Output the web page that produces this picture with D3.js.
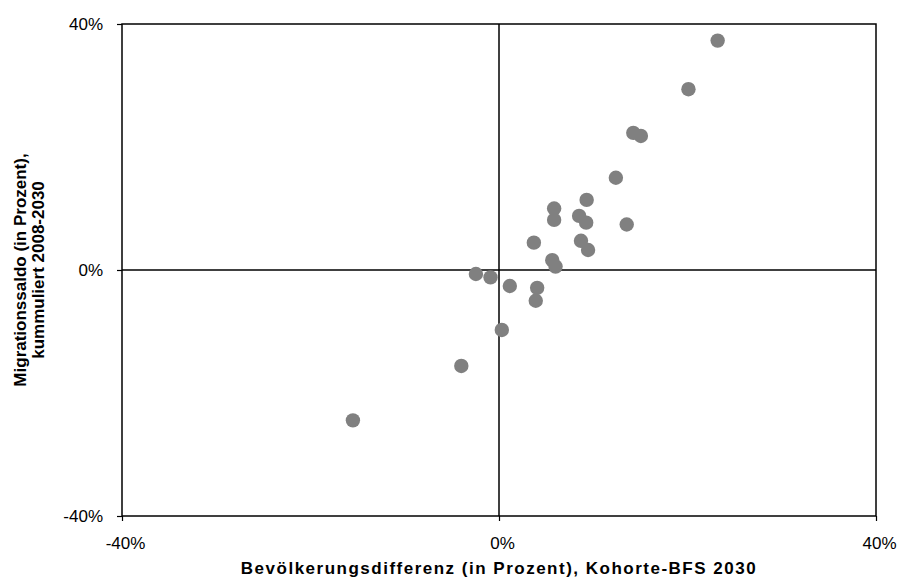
<!DOCTYPE html>
<html>
<head>
<meta charset="utf-8">
<script src="https://cdn.jsdelivr.net/npm/d3@7"></script>
<style>
  body { margin: 0; background: #fff; }
  svg text { font-family: "Liberation Sans", Arial, sans-serif; fill: #000; }
</style>
</head>
<body>
<svg id="chart" width="914" height="581"></svg>
<script>
// Bevoelkerungsdifferenz (x, %) vs. Migrationssaldo (y, %)
const xVals = [23.2, 20.1, 14.25, 15.05, 12.4, 9.3, 5.85, 5.85, 8.5, 9.25, 13.55, 3.7, 8.7, 9.45, 5.65, 6.0, -2.45, -0.9, 1.15, 4.05, 3.9, 0.3, -4.0, -15.5];
const yVals = [37.3, 29.4, 22.3, 21.8, 15.0, 11.4, 10.0, 8.15, 8.8, 7.7, 7.4, 4.45, 4.75, 3.25, 1.6, 0.55, -0.65, -1.2, -2.6, -2.9, -5.0, -9.75, -15.6, -24.45];
const tickVals = [-40, 0, 40];

const svg = d3.select('#chart');
const margin = { left: 122, top: 24, right: 38, bottom: 65 };
const width = 914 - margin.left - margin.right;
const height = 581 - margin.top - margin.bottom;

const x = d3.scaleLinear().domain([-40, 40]).range([0, width]);
const y = d3.scaleLinear().domain([-40, 40]).range([height, 0]);

const g = svg.append('g').attr('transform', `translate(${margin.left},${margin.top})`);

// frame
g.append('rect')
    .attr('width', width)
    .attr('height', height)
    .attr('fill', 'none')
    .attr('stroke', '#000')
    .attr('stroke-width', 1.5);

// zero lines
g.append('line')
    .attr('x1', 0).attr('x2', width)
    .attr('y1', y(0)).attr('y2', y(0))
    .attr('stroke', '#000').attr('stroke-width', 1.5);
g.append('line')
    .attr('x1', x(0)).attr('x2', x(0))
    .attr('y1', 0).attr('y2', height)
    .attr('stroke', '#000').attr('stroke-width', 1.5);

const fmt = (d) => d + '%';

const xAxis = g.append('g')
    .attr('transform', `translate(0,${height})`)
    .call(d3.axisBottom(x).tickValues(tickVals).tickFormat(fmt).tickSize(5).tickPadding(16));
const yAxis = g.append('g')
    .call(d3.axisLeft(y).tickValues(tickVals).tickFormat(fmt).tickSize(5).tickPadding(14));

[xAxis, yAxis].forEach((a) => {
    a.select('.domain').remove();
    a.selectAll('line').attr('stroke', '#000').attr('stroke-width', 1.2);
    a.selectAll('text').attr('font-size', 17).attr('font-family', '"Liberation Sans", Arial, sans-serif').attr('fill', '#000');
});
// Excel nudges the x labels a little to the right
xAxis.selectAll('text').attr('x', 3);

// points
const points = xVals.map((v, i) => ({ x: v, y: yVals[i] }));
g.selectAll('.dot')
    .data(points)
    .enter()
    .append('circle')
    .attr('class', 'dot')
    .attr('cx', (d) => x(d.x))
    .attr('cy', (d) => y(d.y))
    .attr('r', 7.2)
    .attr('fill', '#808080');

// axis titles
svg.append('text')
    .attr('x', margin.left + width / 2)
    .attr('y', 574)
    .attr('text-anchor', 'middle')
    .attr('font-size', 17)
    .attr('font-weight', 'bold')
    .attr('letter-spacing', 1.5)
    .text('Bevölkerungsdifferenz (in Prozent), Kohorte-BFS 2030');

const yTitle = svg.append('text')
    .attr('transform', `translate(26,${margin.top + height / 2})rotate(-90)`)
    .attr('text-anchor', 'middle')
    .attr('font-size', 17)
    .attr('font-weight', 'bold');
yTitle.append('tspan').attr('x', 0).attr('dy', 0).text('Migrationssaldo (in Prozent),');
yTitle.append('tspan').attr('x', 0).attr('dy', 18).text('kummuliert 2008-2030');
</script>
</body>
</html>
